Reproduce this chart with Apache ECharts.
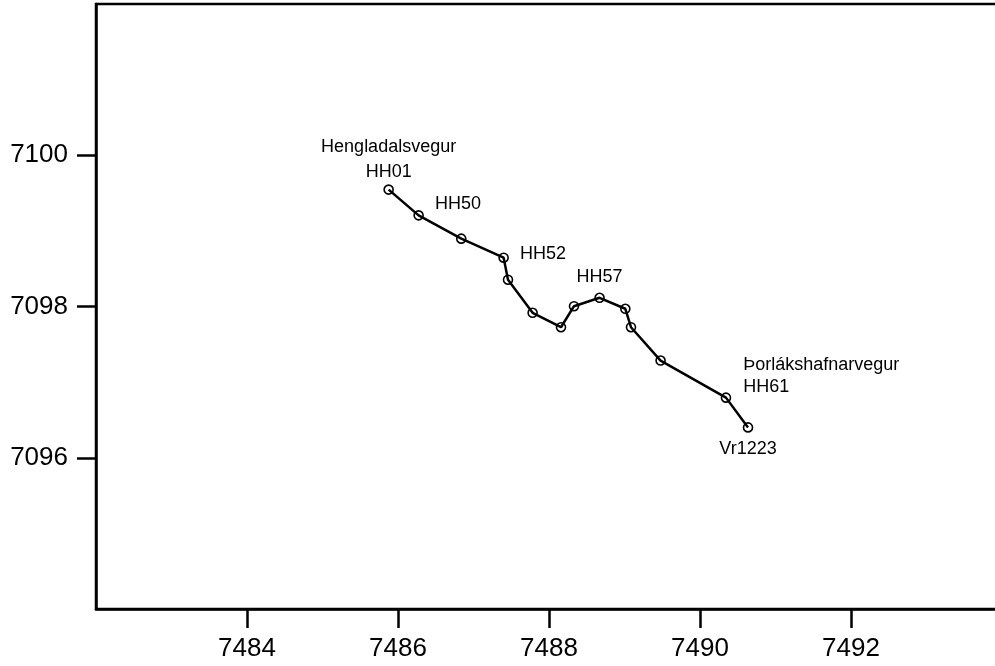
<!DOCTYPE html>
<html>
<head>
<meta charset="utf-8">
<script src="https://cdn.jsdelivr.net/npm/echarts@6/dist/echarts.min.js"></script>
<style>
html,body{margin:0;padding:0;background:#fff;overflow:hidden;width:995px;height:666px;}
#chart{width:1010px;height:666px;}
</style>
</head>
<body>
<div id="chart"></div>
<script>
// Route profile coordinates (easting, northing, km)
const eastings = [7485.876, 7486.273, 7486.838, 7487.399, 7487.457, 7487.783, 7488.159, 7488.331, 7488.670, 7489.011, 7489.086, 7489.478, 7490.344, 7490.636];
const northings = [7099.546, 7099.205, 7098.897, 7098.645, 7098.354, 7097.917, 7097.726, 7098.004, 7098.115, 7097.970, 7097.726, 7097.285, 7096.795, 7096.401];
const pointNames = ['Hengladalsvegur\nHH01', 'HH50', '', 'HH52', '', '', '', '', 'HH57', '', '', '', 'Þorlákshafnarvegur\nHH61', 'Vr1223'];
const xTicks = [7484, 7486, 7488, 7490, 7492];
const yTicks = [7096, 7098, 7100];

const FONT = '"Liberation Sans", Arial, sans-serif';
const labelLayout = {
  0: {position: 'top', distance: 0, lineHeight: 25, align: 'center'},
  1: {position: 'right', distance: 11, offset: [0, -11]},
  3: {position: 'right', distance: 11, offset: [0, -4]},
  8: {position: 'top', distance: 6},
  12: {position: 'right', distance: 12, offset: [0, -22], lineHeight: 22, align: 'left'},
  13: {position: 'bottom', distance: 7}
};

const seriesData = eastings.map((x, i) => {
  const item = {value: [x, northings[i]], name: pointNames[i]};
  if (pointNames[i]) {
    item.label = Object.assign({show: true, formatter: pointNames[i], fontSize: 18, color: '#000', fontFamily: FONT}, labelLayout[i]);
  }
  return item;
});

const plain = v => String(v);

const chart = echarts.init(document.getElementById('chart'), null, {renderer: 'canvas'});
chart.setOption({
  animation: false,
  backgroundColor: '#fff',
  grid: {left: 96, top: 4, height: 605, width: 906, show: true, borderColor: '#000', borderWidth: 2.5, backgroundColor: 'transparent'},
  xAxis: {
    type: 'value', min: 7482, max: 7494, interval: 2,
    axisLine: {show: true, onZero: false, lineStyle: {color: '#000', width: 2.5}},
    axisTick: {show: true, length: 19, lineStyle: {color: '#000', width: 2.5},
      customValues: xTicks},
    axisLabel: {margin: 27, fontSize: 26, color: '#000', fontFamily: FONT,
      customValues: xTicks, formatter: plain},
    splitLine: {show: false}
  },
  yAxis: {
    type: 'value', min: 7094, max: 7102, interval: 2,
    axisLine: {show: true, onZero: false, lineStyle: {color: '#000', width: 2.5}},
    axisTick: {show: true, length: 19, lineStyle: {color: '#000', width: 2.5},
      customValues: yTicks},
    axisLabel: {margin: 28, fontSize: 26, color: '#000', fontFamily: FONT,
      customValues: yTicks, formatter: plain},
    splitLine: {show: false}
  },
  series: [{
    type: 'line',
    data: seriesData,
    symbol: 'circle',
    symbolSize: 9,
    showAllSymbol: true,
    itemStyle: {color: 'transparent', borderColor: '#000', borderWidth: 1.6},
    lineStyle: {color: '#000', width: 2.5},
    label: {show: false},
    emphasis: {disabled: true}
  }]
});
</script>
</body>
</html>
